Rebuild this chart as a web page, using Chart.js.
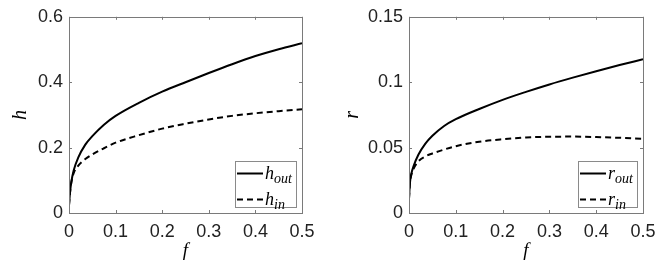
<!DOCTYPE html>
<html>
<head>
<meta charset="utf-8">
<script src="https://cdn.jsdelivr.net/npm/chart.js@4.4.1/dist/chart.umd.min.js"></script>
<style>
  html, body { margin: 0; padding: 0; background: #fff; }
  #wrap { position: relative; width: 664px; height: 264px; }
  canvas { position: absolute; top: 0; }
</style>
</head>
<body>
<div id="wrap">
  <canvas id="left" width="332" height="264" style="left:0"></canvas>
  <canvas id="right" width="332" height="264" style="left:332px"></canvas>
</div>
<script>
/* Two MATLAB-style panels: h and r versus f, outer (solid) vs inner (dashed). */

const fValues = [0, 0.002, 0.005, 0.01, 0.02, 0.035, 0.05, 0.075, 0.1, 0.15, 0.2, 0.25, 0.3, 0.35, 0.4, 0.45, 0.5];

const hOut = [0.024, 0.06, 0.095, 0.13, 0.17, 0.209, 0.235, 0.27, 0.297, 0.337, 0.371, 0.400, 0.428, 0.455, 0.480, 0.501, 0.519];
const hIn  = [0.024, 0.06, 0.093, 0.122, 0.145, 0.165, 0.179, 0.198, 0.215, 0.238, 0.258, 0.273, 0.286, 0.297, 0.305, 0.3115, 0.317];

const rOut = [0.011, 0.023, 0.03, 0.036, 0.0445, 0.053, 0.059, 0.0665, 0.0717, 0.0795, 0.0865, 0.0926, 0.0983, 0.1035, 0.1084, 0.1131, 0.1175];
const rIn  = [0.011, 0.023, 0.029, 0.034, 0.0395, 0.0433, 0.0455, 0.0485, 0.0511, 0.0545, 0.0564, 0.0577, 0.0583, 0.0584, 0.0581, 0.0575, 0.0568];

const xTickStep = 0.1;
const hTickStep = 0.2;
const rTickStep = 0.05;

const INK = '#000';
const AXIS = '#7a7a7a';
const TICK_FONT = { family: "'Liberation Sans', Arial, sans-serif", size: 18 };
const MATH = "'Liberation Serif', 'Times New Roman', serif";

const fmt = (v) => String(+Number(v).toFixed(4));
const series = (ys) => fValues.map((f, i) => ({ x: f, y: ys[i] }));

// Box around the plot area with short inward ticks on all four sides.
const boxPlugin = {
  id: 'matlabBox',
  afterDatasetsDraw(chart) {
    const { ctx, chartArea: a, scales: { x, y } } = chart;
    ctx.save();
    ctx.strokeStyle = AXIS;
    ctx.lineWidth = 1;
    ctx.strokeRect(Math.round(a.left) + 0.5, Math.round(a.top) + 0.5,
      Math.round(a.right - a.left), Math.round(a.bottom - a.top));
    ctx.beginPath();
    x.ticks.forEach((t) => {
      const px = Math.round(x.getPixelForValue(t.value)) + 0.5;
      ctx.moveTo(px, a.bottom); ctx.lineTo(px, a.bottom - 3);
      ctx.moveTo(px, a.top); ctx.lineTo(px, a.top + 3);
    });
    y.ticks.forEach((t) => {
      const py = Math.round(y.getPixelForValue(t.value)) + 0.5;
      ctx.moveTo(a.left, py); ctx.lineTo(a.left + 3, py);
      ctx.moveTo(a.right, py); ctx.lineTo(a.right - 3, py);
    });
    ctx.stroke();
    ctx.restore();
  },
};

// Legend with italic symbol + subscript, bottom-right inside the axes.
const mathLegend = {
  id: 'mathLegend',
  afterDraw(chart) {
    const { ctx, chartArea: a } = chart;
    const sets = chart.data.datasets;
    const main = `italic 18px ${MATH}`;
    const sub = `italic 14px ${MATH}`;
    ctx.save();
    let textW = 0;
    sets.forEach((ds) => {
      const [m, s] = ds.label.split('_');
      ctx.font = main; let w = ctx.measureText(m).width;
      ctx.font = sub; w += ctx.measureText(s).width;
      textW = Math.max(textW, w);
    });
    const lineW = 26;
    const w = Math.round(2 + lineW + 2 + textW + 4);
    const h = 46;
    const right = Math.round(a.right - 6);
    const bottom = Math.round(a.bottom - 6);
    const left = right - w, top = bottom - h;
    ctx.fillStyle = '#fff';
    ctx.fillRect(left, top, w, h);
    ctx.strokeStyle = '#8a8a8a';
    ctx.lineWidth = 1;
    ctx.strokeRect(left + 0.5, top + 0.5, w, h);
    sets.forEach((ds, i) => {
      const cy = top + 12.5 + i * 26;
      ctx.strokeStyle = INK;
      ctx.lineWidth = 2;
      ctx.setLineDash(ds.borderDash || []);
      ctx.beginPath();
      ctx.moveTo(left + 2, cy); ctx.lineTo(left + 2 + lineW, cy);
      ctx.stroke();
      ctx.setLineDash([]);
      const [m, s] = ds.label.split('_');
      ctx.fillStyle = INK;
      ctx.textBaseline = 'alphabetic';
      const tx = left + 4 + lineW;
      ctx.font = main;
      ctx.fillText(m, tx, cy + 5);
      const mw = ctx.measureText(m).width;
      ctx.font = sub;
      ctx.fillText(s, tx + mw, cy + 9);
    });
    ctx.restore();
  },
};

function makeChart(id, opts) {
  return new Chart(document.getElementById(id), {
    type: 'line',
    data: {
      datasets: [
        { label: opts.names[0], data: series(opts.outer), borderColor: INK, borderWidth: 2,
          pointRadius: 0, cubicInterpolationMode: 'monotone' },
        { label: opts.names[1], data: series(opts.inner), borderColor: INK, borderWidth: 2,
          borderDash: [6, 4], pointRadius: 0, cubicInterpolationMode: 'monotone' },
      ],
    },
    options: {
      responsive: false,
      animation: false,
      devicePixelRatio: 1,
      layout: { padding: { left: 0, right: opts.padRight, top: 14, bottom: 0 } },
      plugins: { legend: { display: false }, tooltip: { enabled: false } },
      scales: {
        x: {
          type: 'linear', min: 0, max: 0.5,
          grid: { display: false, drawTicks: false }, border: { display: false },
          ticks: { stepSize: xTickStep, padding: 8, maxRotation: 0, font: TICK_FONT, color: '#222', callback: fmt },
          title: { display: true, text: 'f', color: INK, font: { family: MATH, style: 'italic', size: 19 },
            padding: { top: 0, bottom: 2 } },
          afterFit: (s) => { s.height = 51; },
        },
        y: {
          min: 0, max: opts.yMax,
          grid: { display: false, drawTicks: false }, border: { display: false },
          ticks: { stepSize: opts.yStep, padding: 6, font: TICK_FONT, color: '#222', callback: fmt },
          title: { display: true, text: opts.yTitle, color: INK, font: { family: MATH, style: 'italic', size: 20 },
            padding: { top: 9, bottom: 0 } },
          afterFit: (s) => { s.width = opts.axisW; },
        },
      },
    },
    plugins: [boxPlugin, mathLegend],
  });
}

makeChart('left', { names: ['h_out', 'h_in'], outer: hOut, inner: hIn, yMax: 0.6, yStep: hTickStep,
  yTitle: 'h', axisW: 69, padRight: 30 });
makeChart('right', { names: ['r_out', 'r_in'], outer: rOut, inner: rIn, yMax: 0.15, yStep: rTickStep,
  yTitle: 'r', axisW: 77, padRight: 21 });
</script>
</body>
</html>
